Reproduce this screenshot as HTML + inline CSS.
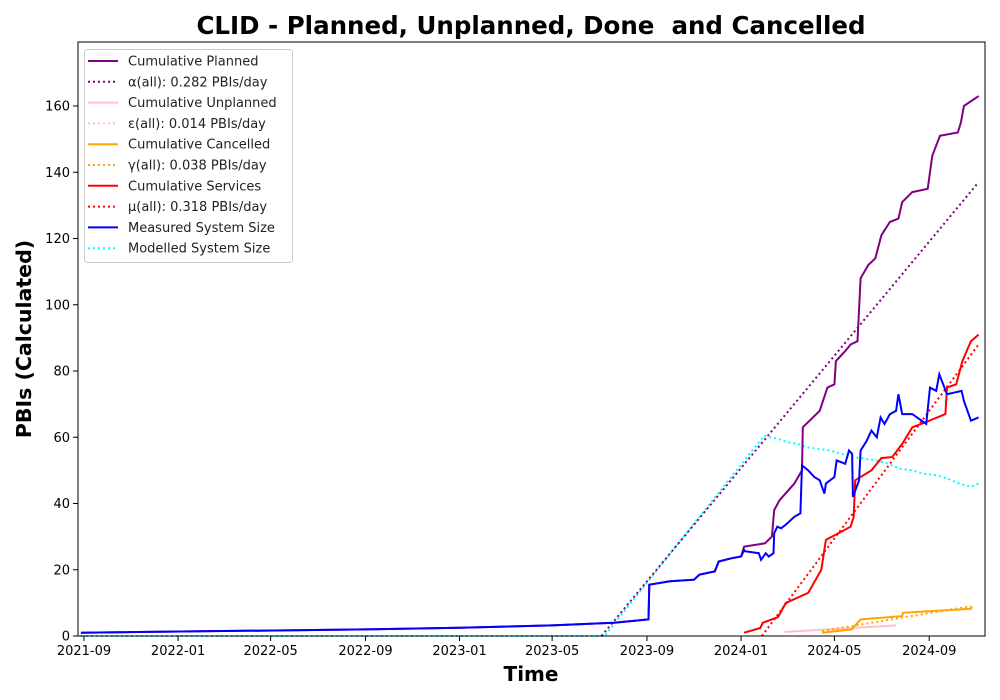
<!DOCTYPE html>
<html><head><meta charset="utf-8"><style>
body{margin:0;background:#fff}
svg{display:block;font-family:"DejaVu Sans","Liberation Sans",sans-serif}
</style></head><body>
<svg id="chart" width="1000" height="700" viewBox="0 0 1000 700">
<rect x="0" y="0" width="1000" height="700" fill="#fff"/>
<text x="531" y="34" font-size="24.5" font-weight="bold" text-anchor="middle" xml:space="preserve" style="white-space:pre">CLID - Planned, Unplanned, Done  and Cancelled</text>
<text x="0" y="0" transform="translate(31,339) rotate(-90)" font-size="20.5" font-weight="bold" text-anchor="middle">PBIs (Calculated)</text>
<text x="531" y="681" font-size="20" font-weight="bold" text-anchor="middle">Time</text>
<g id="marks"></g>
<rect x="78" y="42" width="907" height="594" fill="none" stroke="#000" stroke-width="1"/>
<g id="axes"></g>
<g id="legend"></g>
</svg>
<script>
const yTicks=[0,20,40,60,80,100,120,140,160];
const xTickLabels=['2021-09','2022-01','2022-05','2022-09','2023-01','2023-05','2023-09','2024-01','2024-05','2024-09'];
const measuredDates=['2021-08-28','2022-09-01','2023-01-01','2023-05-01','2023-07-20','2023-09-03','2023-09-04','2023-10-01','2023-11-01','2023-11-08','2023-11-28','2023-12-03','2023-12-20','2024-01-01','2024-01-05','2024-01-06','2024-01-24','2024-01-27','2024-02-02','2024-02-06','2024-02-12','2024-02-13','2024-02-17','2024-02-22','2024-03-01','2024-03-10','2024-03-18','2024-03-20','2024-03-28','2024-04-05','2024-04-12','2024-04-18','2024-04-20','2024-05-01','2024-05-04','2024-05-15','2024-05-20','2024-05-24','2024-05-25','2024-06-02','2024-06-04','2024-06-12','2024-06-18','2024-06-25','2024-06-30','2024-07-05','2024-07-12','2024-07-20','2024-07-23','2024-07-28','2024-08-10','2024-08-28','2024-09-02','2024-09-10','2024-09-14','2024-09-24','2024-10-13','2024-10-16','2024-10-22','2024-10-25','2024-11-04'];
const measuredValues=[1,2,2.5,3.2,4,5,15.5,16.5,17,18.5,19.5,22.5,23.5,24,26,25.6,25,23,25,24,25,31,33,32.5,34,36,37,51.5,50,48,47,43,46,48,53,52,56,55,42,47,56,59,62,60,66,64,67,68,73,67,67,64,75,74,79,73,74,71,67,65,66];
const plannedDates=['2021-08-28','2022-09-01','2023-01-01','2023-05-01','2023-07-20','2023-09-03','2023-09-04','2023-10-01','2023-11-01','2023-11-08','2023-11-28','2023-12-03','2023-12-20','2024-01-01','2024-01-05','2024-02-01','2024-02-10','2024-02-13','2024-02-20','2024-03-10','2024-03-20','2024-03-21','2024-04-12','2024-04-22','2024-05-01','2024-05-03','2024-05-15','2024-05-22','2024-05-31','2024-06-04','2024-06-14','2024-06-23','2024-07-01','2024-07-12','2024-07-23','2024-07-28','2024-08-10','2024-08-30','2024-09-05','2024-09-15','2024-10-08','2024-10-12','2024-10-16','2024-11-04'];
const plannedValues=[1,2,2.5,3.2,4,5,15.5,16.5,17,18.5,19.5,22.5,23.5,24,27,28,30,38,41,46,50,63,68,75,76,83,86,88,89,108,112,114,121,125,126,131,134,135,145,151,152,155,160,163];
const servicesDates=['2024-01-05','2024-01-26','2024-01-29','2024-02-18','2024-02-28','2024-03-28','2024-04-14','2024-04-20','2024-05-22','2024-05-26','2024-05-28','2024-06-18','2024-07-01','2024-07-15','2024-07-28','2024-08-10','2024-08-28','2024-09-22','2024-09-24','2024-10-06','2024-10-14','2024-10-25','2024-11-04'];
const servicesValues=[1,2.4,4,5.7,10,13,20,29,33,36,47,50,53.7,54,58,63,64.6,67,75,76,83,89,91];
const cancelledDates=['2024-04-15','2024-05-24','2024-05-26','2024-06-04','2024-07-28','2024-07-29','2024-10-25','2024-10-26'];
const cancelledValues=[1,2,2.7,5,6,7,8.2,9];
const unplannedDates=['2024-02-26','2024-07-20'];
const unplannedValues=[1.2,3.2];
const modelledDates=['2021-08-28','2023-07-08','2024-01-31','2024-02-08','2024-02-18','2024-03-01','2024-03-15','2024-03-25','2024-04-10','2024-04-25','2024-05-10','2024-05-25','2024-06-10','2024-06-25','2024-07-10','2024-07-25','2024-08-10','2024-08-25','2024-09-10','2024-09-25','2024-10-10','2024-10-25','2024-11-04'];
const modelledValues=[0,0,60.5,60,59.5,58.5,58,57,56.5,56,55,54,53.5,53,52,50.5,50,49,48.5,47.5,46,45,46];
const alphaDates=['2023-07-04','2024-11-04'];const alphaValues=[0,137];
const muDates=['2024-01-28','2024-11-04'];const muValues=[0,88];
const gammaDates=['2024-04-15','2024-10-25'];const gammaValues=[1.5,9];
const epsDates=['2021-08-28','2023-07-06'];const epsValues=[0,0];

const NS='http://www.w3.org/2000/svg';
const t0=Date.UTC(2021,8,1);
function xS(d){const t=Date.parse(d+'T00:00:00Z');return 84+(t-t0)/86400000*0.7712;}
function yS(v){return 636-v*3.3125;}
const marks=document.getElementById('marks');
function line(dates,vals,color,dash,name,w){
  const p=document.createElementNS(NS,'polyline');
  p.setAttribute('points',dates.map((d,i)=>xS(d).toFixed(1)+','+yS(vals[i]).toFixed(1)).join(' '));
  p.setAttribute('fill','none');p.setAttribute('stroke',color);p.setAttribute('stroke-width',w||2);
  if(dash)p.setAttribute('stroke-dasharray',dash);
  
  
  marks.appendChild(p);
}
line(epsDates,epsValues,'pink','2,3','epsilon-fit-line');
line(modelledDates,modelledValues,'cyan','2,3','modelled-system-size-line');
line(alphaDates,alphaValues,'purple','2,3','alpha-fit-line');
line(plannedDates,plannedValues,'purple',null,'cumulative-planned-line');
line(unplannedDates,unplannedValues,'pink',null,'cumulative-unplanned-line');
line(gammaDates,gammaValues,'orange','2,3','gamma-fit-line');
line(cancelledDates,cancelledValues,'orange',null,'cumulative-cancelled-line');
line(muDates,muValues,'red','2,3','mu-fit-line');
line(servicesDates,servicesValues,'red',null,'cumulative-services-line');
line(measuredDates,measuredValues,'blue',null,'measured-system-size-line');

const axes=document.getElementById('axes');
yTicks.forEach(v=>{
  const y=yS(v);
  const l=document.createElementNS(NS,'line');
  l.setAttribute('x1',73);l.setAttribute('x2',78);l.setAttribute('y1',y);l.setAttribute('y2',y);l.setAttribute('stroke','#000');
  
  
  axes.appendChild(l);
  const t=document.createElementNS(NS,'text');
  t.setAttribute('x',70);t.setAttribute('y',y+4.5);t.setAttribute('text-anchor','end');t.setAttribute('font-size','13');
  t.textContent=v;
  
  
  axes.appendChild(t);
});
xTickLabels.forEach(s=>{
  const x=xS(s+'-01');
  const l=document.createElementNS(NS,'line');
  l.setAttribute('x1',x);l.setAttribute('x2',x);l.setAttribute('y1',636);l.setAttribute('y2',641);l.setAttribute('stroke','#000');
  
  
  axes.appendChild(l);
  const t=document.createElementNS(NS,'text');
  t.setAttribute('x',x);t.setAttribute('y',655);t.setAttribute('text-anchor','middle');t.setAttribute('font-size','13');
  t.textContent=s;
  
  
  axes.appendChild(t);
});

const legendLabels=['Cumulative Planned','α(all): 0.282 PBIs/day','Cumulative Unplanned','ε(all): 0.014 PBIs/day','Cumulative Cancelled','γ(all): 0.038 PBIs/day','Cumulative Services','μ(all): 0.318 PBIs/day','Measured System Size','Modelled System Size'];
const legendColors=['purple','purple','pink','pink','orange','orange','red','red','blue','cyan'];
const legendDotted=[false,true,false,true,false,true,false,true,false,true];
const lg=document.getElementById('legend');
const box=document.createElementNS(NS,'rect');
box.setAttribute('x',84.5);box.setAttribute('y',49.5);box.setAttribute('width',208);box.setAttribute('height',213);box.setAttribute('rx',3);
box.setAttribute('fill','#fff');box.setAttribute('fill-opacity','0.8');box.setAttribute('stroke','#ccc');


lg.appendChild(box);
legendLabels.forEach((s,i)=>{
  const y=61+i*20.8;
  const l=document.createElementNS(NS,'line');
  l.setAttribute('x1',88);l.setAttribute('x2',118);l.setAttribute('y1',y);l.setAttribute('y2',y);
  l.setAttribute('stroke',legendColors[i]);l.setAttribute('stroke-width',2);
  if(legendDotted[i])l.setAttribute('stroke-dasharray','2,3');
  
  
  lg.appendChild(l);
  const t=document.createElementNS(NS,'text');
  t.setAttribute('x',128);t.setAttribute('y',y+4.5);t.setAttribute('font-size','13');t.setAttribute('fill','#222');
  t.textContent=s;
  
  
  lg.appendChild(t);
});
</script>
</body></html>
